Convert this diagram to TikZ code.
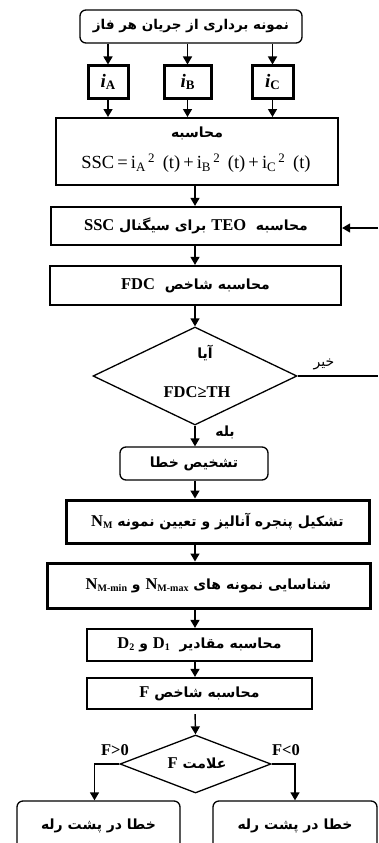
\documentclass[tikz,border=0pt]{standalone}
\usepackage{fontspec}
\setmainfont{Liberation Serif}
\newfontfamily\arabicfont[Script=Arabic]{DejaVu Sans}
\TeXXeTstate=1
\usetikzlibrary{arrows.meta,shapes.geometric}
\newcommand\latx[1]{{\rmfamily\bfseries\fontsize{16.5}{16.5}\selectfont\beginL #1\endL}}
\newcommand\artx[1]{{\arabicfont\bfseries\beginR #1\endR}}
\newcommand\artn[1]{{\arabicfont\beginR #1\endR}}
\newcommand\subM[1]{\raisebox{-0.25ex}{\fontsize{10}{10}\selectfont #1}}
\newcommand\ivar[1]{{\fontsize{19}{19}\selectfont\bfseries\itshape i}{\bfseries\raisebox{-0.3ex}{\fontsize{13}{13}\selectfont #1}}}
\begin{document}
\begin{tikzpicture}[x=1pt,y=-1pt,
  every node/.style={inner sep=0pt, font=\fontsize{14}{16}\selectfont},
  box/.style={draw, line width=2.2pt},
  thinbox/.style={draw, line width=1.3pt, rounded corners=6pt},
  heavybox/.style={draw, line width=3pt},
  dia/.style={draw, diamond, line width=1.3pt},
  arr/.style={-{Triangle[length=8pt,width=9pt]}, line width=1.4pt}]
\useasboundingbox (0,0) rectangle (378,843);
\clip (0,0) rectangle (378,843);
\coordinate (sp) at (195,0);
% nodes
\node[thinbox, minimum width=222pt, minimum height=33pt, font=\fontsize{13.5}{15}\selectfont] (top) at (191,26.5) {\artx{نمونه برداری از جریان هر فاز}};
\node[heavybox, minimum width=40pt, minimum height=32pt] (ia) at (108,82) {\ivar{A}};
\node[heavybox, minimum width=47pt, minimum height=32pt] (ib) at (187.5,82) {\ivar{B}};
\node[heavybox, minimum width=41pt, minimum height=32pt] (ic) at (272.5,82) {\ivar{C}};
\node[box, line width=2pt, minimum width=282pt, minimum height=67pt] (ssc) at (197,151.5) {};
\node (ssct) at (197,133) {\artx{محاسبه}};
\node[font=\fontsize{18.5}{20}\selectfont] (sscf) at (196,163) {SSC\,=\,i\textsubscript{A}\textsuperscript{\,2} \,(t)\,+\,i\textsubscript{B}\textsuperscript{\,2} \,(t)\,+\,i\textsubscript{C}\textsuperscript{\,2} \,(t)};
\node[box, minimum width=290pt, minimum height=38pt] (teo) at (196,226) {\artx{محاسبه \ \latx{TEO} برای سیگنال \latx{SSC}}};
\node[box, minimum width=291pt, minimum height=39pt] (fdc) at (195.5,285.5) {\artx{محاسبه شاخص \ \latx{FDC}}};
\node[dia, minimum width=204pt, minimum height=98pt] (d1) at (195,376) {};
\node (d1a) at (205,353) {\artx{آیا}};
\node (d1b) at (197,392) {\latx{FDC≥TH}};
\node (no) at (324,364) {\artn{خیر}};
\node (yes) at (225,432) {\artx{بله}};
\node[thinbox, minimum width=148pt, minimum height=33pt] (diag) at (194,463.5) {\artx{تشخیص خطا}};
\node[heavybox, minimum width=303pt, minimum height=43pt] (win) at (217.5,521.5) {\artx{تشکیل پنجره آنالیز و تعیین نمونه \latx{N\subM{M}}}};
\node[heavybox, minimum width=323pt, minimum height=45pt] (nm) at (208.5,585.5) {\artx{شناسایی نمونه های \latx{N\subM{M-max}} و \latx{N\subM{M-min}}}};
\node[box, minimum width=225pt, minimum height=32pt] (dd) at (199.5,645) {\artx{محاسبه مقادیر \ \latx{D\subM{1}} و \latx{D\subM{2}}}};
\node[box, minimum width=225pt, minimum height=31pt] (ff) at (199.5,693.5) {\artx{محاسبه شاخص \latx{F}}};
\node[dia, minimum width=151pt, minimum height=58pt] (d2) at (195.5,764) {};
\node (d2t) at (197,763) {\artx{علامت \latx{F}}};
\node (fpos) at (115,750) {\latx{F>0}};
\node (fneg) at (286,750) {\latx{F<0}};
\node[thinbox, minimum width=163pt, minimum height=49pt] (bl) at (98.5,825.5) {\artx{خطا در پشت رله}};
\node[thinbox, minimum width=164pt, minimum height=49pt] (br) at (295,825.5) {\artx{خطا در پشت رله}};
\coordinate (fbin) at (378,228);
\coordinate (noout) at (378,376);
% connectors
\draw[arr] (top.south -| ia) -- (ia.north);
\draw[arr] (top.south -| ib) -- (ib.north);
\draw[arr] (top.south -| ic) -- (ic.north);
\draw[arr] (ia.south) -- (ssc.north -| ia);
\draw[arr] (ib.south) -- (ssc.north -| ib);
\draw[arr] (ic.south) -- (ssc.north -| ic);
\draw[arr] (ssc.south -| sp) -- (teo.north -| sp);
\draw[arr] (teo.south -| sp) -- (fdc.north -| sp);
\draw[arr] (fdc.south -| sp) -- (d1.north);
\draw[arr] (fbin) -- (teo.east |- fbin);
\draw[line width=1.3pt] (d1.east) -- (noout);
\draw[arr] (d1.south) -- (diag.north -| d1.south);
\draw[arr] (diag.south -| sp) -- (win.north -| sp);
\draw[arr] (win.south -| sp) -- (nm.north -| sp);
\draw[arr] (nm.south -| sp) -- (dd.north -| sp);
\draw[arr] (dd.south -| sp) -- (ff.north -| sp);
\draw[arr, shorten <=4pt] (ff.south -| sp) -- (d2.north);
\draw[arr] (d2.west) -| ([xshift=-4pt]bl.north);
\draw[arr] (d2.east) -| (br.north);
\end{tikzpicture}
\end{document}
